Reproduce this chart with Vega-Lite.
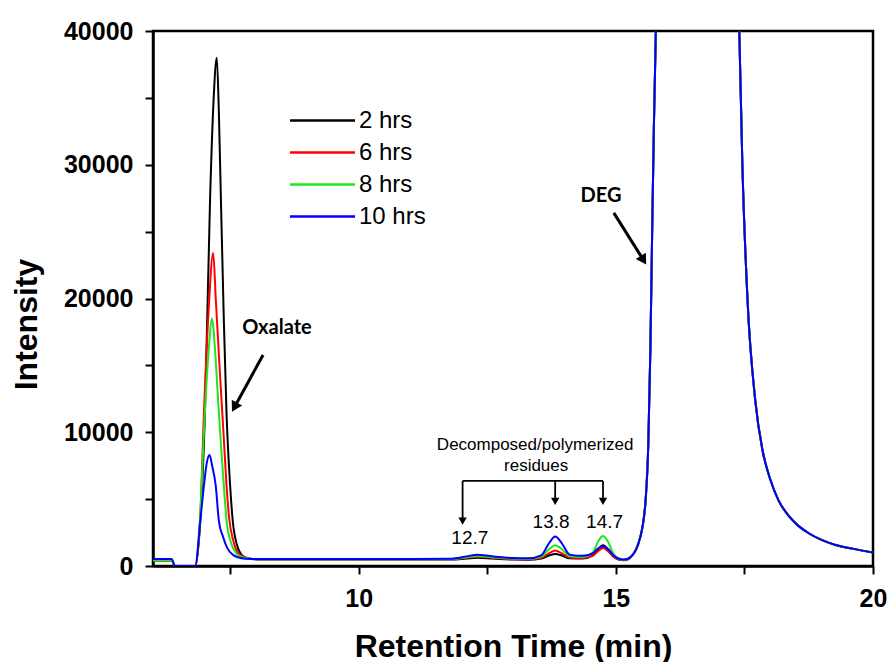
{
  "$schema": "https://vega.github.io/schema/vega-lite/v6.json",
  "width": 720,
  "height": 535,
  "autosize": {"type": "none"},
  "padding": {"left": 153, "top": 31, "right": 16, "bottom": 96},
  "background": "white",
  "config": {
    "view": {"stroke": "black", "strokeWidth": 2.5},
    "axis": {
      "domainColor": "black", "domainWidth": 2.5, "tickColor": "black", "tickWidth": 2, "tickSize": 8, "grid": false,
      "labelFont": "Liberation Sans", "labelFontWeight": "bold", "labelFontSize": 25, "labelColor": "black",
      "titleFont": "Liberation Sans", "titleFontWeight": "bold", "titleFontSize": 32, "titleColor": "black"
    }
  },
  "datasets": {
    "curves": [
      {"s":"2 hrs","t":6.0,"v":420},{"s":"2 hrs","t":6.36,"v":420},{"s":"2 hrs","t":6.43,"v":0},{"s":"2 hrs","t":6.82,"v":0},
      {"s":"2 hrs","t":6.92,"v":3400},{"s":"2 hrs","t":7.01,"v":11400},{"s":"2 hrs","t":7.11,"v":27500},{"s":"2 hrs","t":7.18,"v":35000},{"s":"2 hrs","t":7.24,"v":38000},{"s":"2 hrs","t":7.28,"v":34000},{"s":"2 hrs","t":7.32,"v":27500},{"s":"2 hrs","t":7.38,"v":18000},{"s":"2 hrs","t":7.43,"v":11400},{"s":"2 hrs","t":7.5,"v":6000},{"s":"2 hrs","t":7.55,"v":3400},{"s":"2 hrs","t":7.63,"v":1600},{"s":"2 hrs","t":7.71,"v":900},{"s":"2 hrs","t":7.8,"v":650},{"s":"2 hrs","t":7.9,"v":550},{"s":"2 hrs","t":8.1,"v":480},{"s":"2 hrs","t":9,"v":480},{"s":"2 hrs","t":10,"v":480},{"s":"2 hrs","t":11,"v":480},{"s":"2 hrs","t":11.8,"v":480},{"s":"2 hrs","t":12.1,"v":560},{"s":"2 hrs","t":12.3,"v":620},{"s":"2 hrs","t":12.6,"v":560},{"s":"2 hrs","t":13.0,"v":480},{"s":"2 hrs","t":13.3,"v":470},{"s":"2 hrs","t":13.55,"v":560},{"s":"2 hrs","t":13.7,"v":780},{"s":"2 hrs","t":13.82,"v":900},{"s":"2 hrs","t":13.95,"v":780},{"s":"2 hrs","t":14.1,"v":580},{"s":"2 hrs","t":14.35,"v":560},{"s":"2 hrs","t":14.55,"v":800},{"s":"2 hrs","t":14.65,"v":1250},{"s":"2 hrs","t":14.75,"v":1550},{"s":"2 hrs","t":14.85,"v":1250},{"s":"2 hrs","t":14.95,"v":750},{"s":"2 hrs","t":15.05,"v":480},{"s":"2 hrs","t":15.15,"v":430},{"s":"2 hrs","t":15.25,"v":520},
      {"s":"2 hrs","t":15.32,"v":800},{"s":"2 hrs","t":15.4,"v":1300},{"s":"2 hrs","t":15.47,"v":2100},{"s":"2 hrs","t":15.53,"v":3200},{"s":"2 hrs","t":15.58,"v":5000},{"s":"2 hrs","t":15.63,"v":9000},{"s":"2 hrs","t":15.67,"v":16000},{"s":"2 hrs","t":15.7,"v":23500},{"s":"2 hrs","t":15.74,"v":33000},{"s":"2 hrs","t":15.78,"v":40500},{"s":"2 hrs","t":15.85,"v":60000},{"s":"2 hrs","t":16.2,"v":90000},{"s":"2 hrs","t":17.1,"v":90000},{"s":"2 hrs","t":17.3,"v":60000},{"s":"2 hrs","t":17.4,"v":40000},{"s":"2 hrs","t":17.46,"v":30000},{"s":"2 hrs","t":17.56,"v":19900},{"s":"2 hrs","t":17.71,"v":12400},{"s":"2 hrs","t":17.85,"v":8670},{"s":"2 hrs","t":18.0,"v":6500},{"s":"2 hrs","t":18.16,"v":4930},{"s":"2 hrs","t":18.35,"v":3800},{"s":"2 hrs","t":18.55,"v":3000},{"s":"2 hrs","t":18.75,"v":2450},{"s":"2 hrs","t":19.0,"v":1950},{"s":"2 hrs","t":19.27,"v":1570},{"s":"2 hrs","t":19.6,"v":1300},{"s":"2 hrs","t":20.0,"v":1000},

      {"s":"6 hrs","t":6.0,"v":420},{"s":"6 hrs","t":6.36,"v":420},{"s":"6 hrs","t":6.43,"v":0},{"s":"6 hrs","t":6.82,"v":0},
      {"s":"6 hrs","t":6.92,"v":3800},{"s":"6 hrs","t":6.99,"v":11400},{"s":"6 hrs","t":7.08,"v":19000},{"s":"6 hrs","t":7.17,"v":23400},{"s":"6 hrs","t":7.22,"v":20000},{"s":"6 hrs","t":7.3,"v":14500},{"s":"6 hrs","t":7.37,"v":10000},{"s":"6 hrs","t":7.43,"v":6000},{"s":"6 hrs","t":7.48,"v":3600},{"s":"6 hrs","t":7.56,"v":1900},{"s":"6 hrs","t":7.65,"v":1000},{"s":"6 hrs","t":7.75,"v":700},{"s":"6 hrs","t":7.9,"v":550},{"s":"6 hrs","t":8.1,"v":500},{"s":"6 hrs","t":9,"v":500},{"s":"6 hrs","t":10,"v":500},{"s":"6 hrs","t":11,"v":500},{"s":"6 hrs","t":11.8,"v":500},{"s":"6 hrs","t":12.1,"v":620},{"s":"6 hrs","t":12.3,"v":700},{"s":"6 hrs","t":12.6,"v":620},{"s":"6 hrs","t":13.0,"v":520},{"s":"6 hrs","t":13.3,"v":500},{"s":"6 hrs","t":13.55,"v":620},{"s":"6 hrs","t":13.7,"v":950},{"s":"6 hrs","t":13.82,"v":1150},{"s":"6 hrs","t":13.95,"v":950},{"s":"6 hrs","t":14.1,"v":640},{"s":"6 hrs","t":14.35,"v":600},{"s":"6 hrs","t":14.55,"v":760},{"s":"6 hrs","t":14.65,"v":1100},{"s":"6 hrs","t":14.75,"v":1350},{"s":"6 hrs","t":14.85,"v":1100},{"s":"6 hrs","t":14.95,"v":700},{"s":"6 hrs","t":15.05,"v":500},{"s":"6 hrs","t":15.15,"v":450},{"s":"6 hrs","t":15.25,"v":540},
      {"s":"6 hrs","t":15.32,"v":800},{"s":"6 hrs","t":15.4,"v":1300},{"s":"6 hrs","t":15.47,"v":2100},{"s":"6 hrs","t":15.53,"v":3200},{"s":"6 hrs","t":15.58,"v":5000},{"s":"6 hrs","t":15.63,"v":9000},{"s":"6 hrs","t":15.67,"v":16000},{"s":"6 hrs","t":15.7,"v":23500},{"s":"6 hrs","t":15.74,"v":33000},{"s":"6 hrs","t":15.78,"v":40500},{"s":"6 hrs","t":15.85,"v":60000},{"s":"6 hrs","t":16.2,"v":90000},{"s":"6 hrs","t":17.1,"v":90000},{"s":"6 hrs","t":17.3,"v":60000},{"s":"6 hrs","t":17.4,"v":40000},{"s":"6 hrs","t":17.46,"v":30000},{"s":"6 hrs","t":17.56,"v":19900},{"s":"6 hrs","t":17.71,"v":12400},{"s":"6 hrs","t":17.85,"v":8670},{"s":"6 hrs","t":18.0,"v":6500},{"s":"6 hrs","t":18.16,"v":4930},{"s":"6 hrs","t":18.35,"v":3800},{"s":"6 hrs","t":18.55,"v":3000},{"s":"6 hrs","t":18.75,"v":2450},{"s":"6 hrs","t":19.0,"v":1950},{"s":"6 hrs","t":19.27,"v":1570},{"s":"6 hrs","t":19.6,"v":1300},{"s":"6 hrs","t":20.0,"v":1000},

      {"s":"8 hrs","t":6.0,"v":420},{"s":"8 hrs","t":6.36,"v":420},{"s":"8 hrs","t":6.43,"v":0},{"s":"8 hrs","t":6.82,"v":0},
      {"s":"8 hrs","t":6.92,"v":4000},{"s":"8 hrs","t":6.99,"v":10000},{"s":"8 hrs","t":7.08,"v":16000},{"s":"8 hrs","t":7.15,"v":18500},{"s":"8 hrs","t":7.2,"v":16500},{"s":"8 hrs","t":7.28,"v":11500},{"s":"8 hrs","t":7.34,"v":8000},{"s":"8 hrs","t":7.4,"v":4800},{"s":"8 hrs","t":7.43,"v":3400},{"s":"8 hrs","t":7.52,"v":1700},{"s":"8 hrs","t":7.62,"v":950},{"s":"8 hrs","t":7.75,"v":650},{"s":"8 hrs","t":7.9,"v":550},{"s":"8 hrs","t":8.1,"v":500},{"s":"8 hrs","t":9,"v":500},{"s":"8 hrs","t":10,"v":500},{"s":"8 hrs","t":11,"v":505},{"s":"8 hrs","t":11.8,"v":510},{"s":"8 hrs","t":12.1,"v":650},{"s":"8 hrs","t":12.3,"v":750},{"s":"8 hrs","t":12.6,"v":650},{"s":"8 hrs","t":13.0,"v":560},{"s":"8 hrs","t":13.3,"v":540},{"s":"8 hrs","t":13.55,"v":700},{"s":"8 hrs","t":13.7,"v":1250},{"s":"8 hrs","t":13.82,"v":1550},{"s":"8 hrs","t":13.95,"v":1250},{"s":"8 hrs","t":14.1,"v":720},{"s":"8 hrs","t":14.35,"v":680},{"s":"8 hrs","t":14.55,"v":1000},{"s":"8 hrs","t":14.65,"v":1800},{"s":"8 hrs","t":14.75,"v":2250},{"s":"8 hrs","t":14.85,"v":1800},{"s":"8 hrs","t":14.95,"v":950},{"s":"8 hrs","t":15.05,"v":560},{"s":"8 hrs","t":15.15,"v":460},{"s":"8 hrs","t":15.25,"v":560},
      {"s":"8 hrs","t":15.32,"v":800},{"s":"8 hrs","t":15.4,"v":1300},{"s":"8 hrs","t":15.47,"v":2100},{"s":"8 hrs","t":15.53,"v":3200},{"s":"8 hrs","t":15.58,"v":5000},{"s":"8 hrs","t":15.63,"v":9000},{"s":"8 hrs","t":15.67,"v":16000},{"s":"8 hrs","t":15.7,"v":23500},{"s":"8 hrs","t":15.74,"v":33000},{"s":"8 hrs","t":15.78,"v":40500},{"s":"8 hrs","t":15.85,"v":60000},{"s":"8 hrs","t":16.2,"v":90000},{"s":"8 hrs","t":17.1,"v":90000},{"s":"8 hrs","t":17.3,"v":60000},{"s":"8 hrs","t":17.4,"v":40000},{"s":"8 hrs","t":17.46,"v":30000},{"s":"8 hrs","t":17.56,"v":19900},{"s":"8 hrs","t":17.71,"v":12400},{"s":"8 hrs","t":17.85,"v":8670},{"s":"8 hrs","t":18.0,"v":6500},{"s":"8 hrs","t":18.16,"v":4930},{"s":"8 hrs","t":18.35,"v":3800},{"s":"8 hrs","t":18.55,"v":3000},{"s":"8 hrs","t":18.75,"v":2450},{"s":"8 hrs","t":19.0,"v":1950},{"s":"8 hrs","t":19.27,"v":1570},{"s":"8 hrs","t":19.6,"v":1300},{"s":"8 hrs","t":20.0,"v":1000},

      {"s":"10 hrs","t":6.0,"v":520},{"s":"10 hrs","t":6.36,"v":520},{"s":"10 hrs","t":6.43,"v":0},{"s":"10 hrs","t":6.82,"v":0},
      {"s":"10 hrs","t":6.92,"v":3400},{"s":"10 hrs","t":6.99,"v":6000},{"s":"10 hrs","t":7.05,"v":7800},{"s":"10 hrs","t":7.1,"v":8300},{"s":"10 hrs","t":7.15,"v":7500},{"s":"10 hrs","t":7.22,"v":6000},{"s":"10 hrs","t":7.28,"v":3400},{"s":"10 hrs","t":7.36,"v":2200},{"s":"10 hrs","t":7.45,"v":1300},{"s":"10 hrs","t":7.55,"v":850},{"s":"10 hrs","t":7.65,"v":650},{"s":"10 hrs","t":7.8,"v":550},{"s":"10 hrs","t":8.1,"v":520},{"s":"10 hrs","t":9,"v":520},{"s":"10 hrs","t":10,"v":520},{"s":"10 hrs","t":11,"v":530},{"s":"10 hrs","t":11.8,"v":540},{"s":"10 hrs","t":12.1,"v":720},{"s":"10 hrs","t":12.3,"v":850},{"s":"10 hrs","t":12.6,"v":720},{"s":"10 hrs","t":13.0,"v":600},{"s":"10 hrs","t":13.3,"v":580},{"s":"10 hrs","t":13.55,"v":800},{"s":"10 hrs","t":13.7,"v":1700},{"s":"10 hrs","t":13.82,"v":2200},{"s":"10 hrs","t":13.95,"v":1700},{"s":"10 hrs","t":14.1,"v":850},{"s":"10 hrs","t":14.35,"v":760},{"s":"10 hrs","t":14.55,"v":950},{"s":"10 hrs","t":14.65,"v":1300},{"s":"10 hrs","t":14.75,"v":1450},{"s":"10 hrs","t":14.85,"v":1250},{"s":"10 hrs","t":14.95,"v":800},{"s":"10 hrs","t":15.05,"v":560},{"s":"10 hrs","t":15.15,"v":480},{"s":"10 hrs","t":15.25,"v":580},
      {"s":"10 hrs","t":15.32,"v":800},{"s":"10 hrs","t":15.4,"v":1300},{"s":"10 hrs","t":15.47,"v":2100},{"s":"10 hrs","t":15.53,"v":3200},{"s":"10 hrs","t":15.58,"v":5000},{"s":"10 hrs","t":15.63,"v":9000},{"s":"10 hrs","t":15.67,"v":16000},{"s":"10 hrs","t":15.7,"v":23500},{"s":"10 hrs","t":15.74,"v":33000},{"s":"10 hrs","t":15.78,"v":40500},{"s":"10 hrs","t":15.85,"v":60000},{"s":"10 hrs","t":16.2,"v":90000},{"s":"10 hrs","t":17.1,"v":90000},{"s":"10 hrs","t":17.3,"v":60000},{"s":"10 hrs","t":17.4,"v":40000},{"s":"10 hrs","t":17.46,"v":30000},{"s":"10 hrs","t":17.56,"v":19900},{"s":"10 hrs","t":17.71,"v":12400},{"s":"10 hrs","t":17.85,"v":8670},{"s":"10 hrs","t":18.0,"v":6500},{"s":"10 hrs","t":18.16,"v":4930},{"s":"10 hrs","t":18.35,"v":3800},{"s":"10 hrs","t":18.55,"v":3000},{"s":"10 hrs","t":18.75,"v":2450},{"s":"10 hrs","t":19.0,"v":1950},{"s":"10 hrs","t":19.27,"v":1570},{"s":"10 hrs","t":19.6,"v":1300},{"s":"10 hrs","t":20.0,"v":1000}
    ],
    "arrows": [
      {"t":8.14,"v":15780,"t2":7.61,"v2":12060},
      {"t":14.96,"v":26400,"t2":15.51,"v2":23040}
    ],
    "bracket": [
      {"t":12.02,"v":6360,"t2":14.75,"v2":6360},
      {"t":12.02,"v":6360,"t2":12.02,"v2":3440},
      {"t":13.82,"v":6360,"t2":13.82,"v2":4930},
      {"t":14.75,"v":6360,"t2":14.75,"v2":4930}
    ],
    "bigHeads": [
      {"t":7.60,"v":11990,"a":208.6},
      {"t":15.52,"v":22970,"a":148}
    ],
    "smallHeads": [
      {"t":12.02,"v":3440,"a":180},
      {"t":13.82,"v":4930,"a":180},
      {"t":14.75,"v":4930,"a":180}
    ],
    "boldLabels": [
      {"t":8.41,"v":17800,"label":"Oxalate"},
      {"t":14.71,"v":27670,"label":"DEG"}
    ],
    "noteLabels": [
      {"t":13.43,"v":9050,"label":"Decomposed/polymerized"},
      {"t":13.45,"v":7480,"label":"residues"}
    ],
    "numLabels": [
      {"t":12.16,"v":2090,"label":"12.7"},
      {"t":13.74,"v":3290,"label":"13.8"},
      {"t":14.78,"v":3290,"label":"14.7"}
    ]
  },
  "layer": [
    {
      "data": {"name": "curves"},
      "mark": {"type": "line", "clip": true, "strokeWidth": 2, "interpolate": "monotone"},
      "encoding": {
        "x": {"field": "t", "type": "quantitative", "scale": {"domain": [6, 20], "nice": false, "zero": false},
              "axis": {"title": "Retention Time (min)", "values": [7.5, 10, 12.5, 15, 17.5, 20], "labelExpr": "datum.value % 5 === 0 ? datum.label : ''", "labelPadding": 12, "titlePadding": 20, "labelFlush": false, "labelOverlap": false}},
        "y": {"field": "v", "type": "quantitative", "scale": {"domain": [0, 40000], "nice": false},
              "axis": {"title": "Intensity", "values": [0, 5000, 10000, 15000, 20000, 25000, 30000, 35000, 40000], "format": "d", "labelExpr": "datum.value % 10000 === 0 ? datum.label : ''", "labelPadding": 12, "titlePadding": 20, "titleY": 293, "labelFlush": false, "labelOverlap": false}},
        "color": {"field": "s", "type": "nominal", "sort": ["2 hrs", "6 hrs", "8 hrs", "10 hrs"],
                  "scale": {"domain": ["2 hrs", "6 hrs", "8 hrs", "10 hrs"], "range": ["#000000", "#ff0000", "#1ee61e", "#0000ff"]},
                  "legend": {"orient": "none", "legendX": 157, "legendY": 77, "title": null, "symbolType": "M-3,0H3", "symbolSize": 470, "symbolStrokeWidth": 2.5, "symbolFillColor": "transparent", "labelFont": "Liberation Sans", "labelFontSize": 24, "labelColor": "black", "labelOffset": 24, "rowPadding": 7}}
      }
    },
    {
      "data": {"name": "arrows"},
      "mark": {"type": "rule", "strokeWidth": 3, "color": "black"},
      "encoding": {
        "x": {"field": "t", "type": "quantitative", "scale": {"domain": [6, 20], "nice": false, "zero": false}},
        "y": {"field": "v", "type": "quantitative", "scale": {"domain": [0, 40000], "nice": false}},
        "x2": {"field": "t2"}, "y2": {"field": "v2"}
      }
    },
    {
      "data": {"name": "bracket"},
      "mark": {"type": "rule", "strokeWidth": 1.8, "color": "black"},
      "encoding": {
        "x": {"field": "t", "type": "quantitative", "scale": {"domain": [6, 20], "nice": false, "zero": false}},
        "y": {"field": "v", "type": "quantitative", "scale": {"domain": [0, 40000], "nice": false}},
        "x2": {"field": "t2"}, "y2": {"field": "v2"}
      }
    },
    {
      "data": {"name": "bigHeads"},
      "mark": {"type": "point", "shape": "triangle", "filled": true, "color": "black", "size": 140, "opacity": 1},
      "encoding": {
        "x": {"field": "t", "type": "quantitative", "scale": {"domain": [6, 20], "nice": false, "zero": false}},
        "y": {"field": "v", "type": "quantitative", "scale": {"domain": [0, 40000], "nice": false}},
        "angle": {"field": "a", "type": "quantitative", "scale": null}
      }
    },
    {
      "data": {"name": "smallHeads"},
      "mark": {"type": "point", "shape": "triangle", "filled": true, "color": "black", "size": 70, "opacity": 1},
      "encoding": {
        "x": {"field": "t", "type": "quantitative", "scale": {"domain": [6, 20], "nice": false, "zero": false}},
        "y": {"field": "v", "type": "quantitative", "scale": {"domain": [0, 40000], "nice": false}},
        "angle": {"field": "a", "type": "quantitative", "scale": null}
      }
    },
    {
      "data": {"name": "boldLabels"},
      "mark": {"type": "text", "font": "Lato", "fontWeight": "bold", "fontSize": 20, "color": "black", "align": "center", "baseline": "middle"},
      "encoding": {
        "x": {"field": "t", "type": "quantitative", "scale": {"domain": [6, 20], "nice": false, "zero": false}},
        "y": {"field": "v", "type": "quantitative", "scale": {"domain": [0, 40000], "nice": false}},
        "text": {"field": "label"}
      }
    },
    {
      "data": {"name": "noteLabels"},
      "mark": {"type": "text", "font": "Liberation Sans", "fontSize": 17, "color": "black", "align": "center", "baseline": "middle"},
      "encoding": {
        "x": {"field": "t", "type": "quantitative", "scale": {"domain": [6, 20], "nice": false, "zero": false}},
        "y": {"field": "v", "type": "quantitative", "scale": {"domain": [0, 40000], "nice": false}},
        "text": {"field": "label"}
      }
    },
    {
      "data": {"name": "numLabels"},
      "mark": {"type": "text", "font": "Liberation Sans", "fontSize": 19, "color": "black", "align": "center", "baseline": "middle"},
      "encoding": {
        "x": {"field": "t", "type": "quantitative", "scale": {"domain": [6, 20], "nice": false, "zero": false}},
        "y": {"field": "v", "type": "quantitative", "scale": {"domain": [0, 40000], "nice": false}},
        "text": {"field": "label"}
      }
    }
  ]
}
